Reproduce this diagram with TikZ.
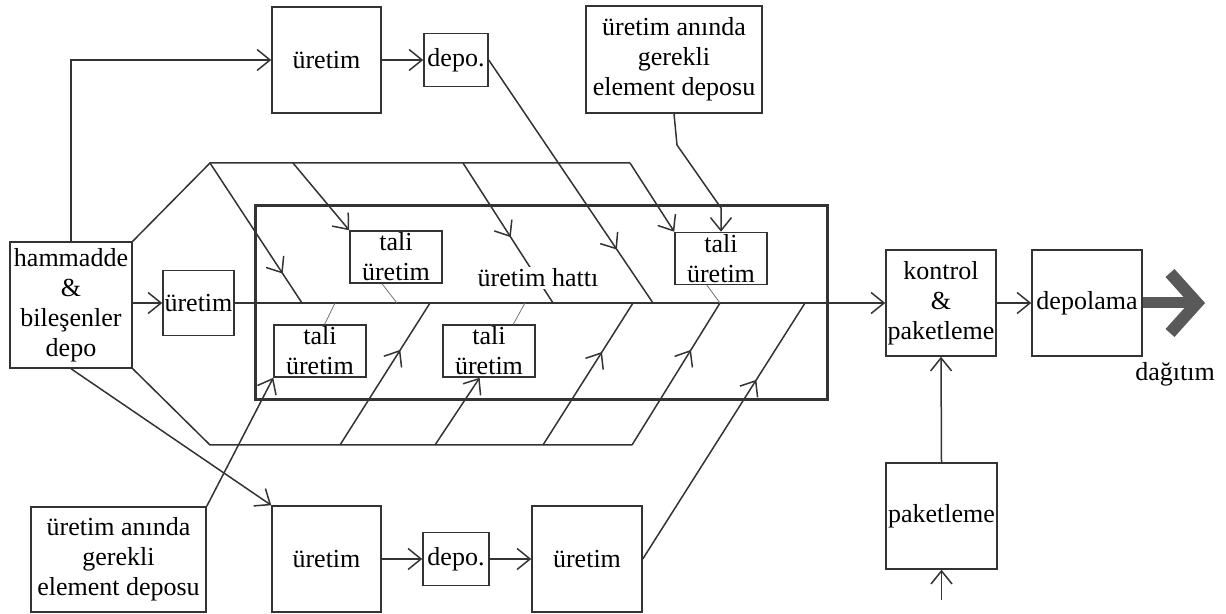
\documentclass[tikz,border=0pt]{standalone}
\usepackage{fontspec}
\setmainfont{Liberation Serif}
\usetikzlibrary{arrows.meta,decorations.markings,calc}
\begin{document}
\begin{tikzpicture}[x=0.5pt,y=-0.5pt,
  ln/.style={draw=black!80, line width=0.75pt},
  thinln/.style={draw=black!55, line width=0.4pt},
  tip/.style={-{Straight Barb[length=6.5pt,width=10.5pt]}},
  midarrow/.style={postaction={decorate},decoration={markings,mark=at position #1 with {\arrow{Straight Barb[length=6.5pt,width=10.5pt]}}}},
  txt/.style={font=\fontsize{13}{15}\selectfont, align=center},
  box/.style n args={2}{draw=black!80, line width=0.75pt, fill=white, inner sep=0pt, txt, minimum width=#1, minimum height=#2}
]
\useasboundingbox (0,0) rectangle (1226,614);

% inner frame
\draw[draw=black!80, line width=1.5pt] (255,206) rectangle (827,400);

% boxes
\node[box={54.5pt}{53pt}] (top1) at (326.5,60) {üretim};
\node[box={32pt}{26.5pt}] (depo1) at (456,60) {depo.};
\node[box={88pt}{53.5pt}] (jit1) at (674,59.5) {üretim anında\\gerekli\\element deposu};
\node[box={61pt}{63pt}] (ham) at (71,305) {hammadde\\\&\\bileşenler\\depo};
\node[box={35.5pt}{32.5pt}] (ur0) at (198.5,303) {üretim};
\node[box={55pt}{53pt}] (kon) at (941,303) {kontrol\\\&\\paketleme};
\node[box={55pt}{53pt}] (dep) at (1087,303) {depolama};
\node[box={55.5pt}{53pt}] (pak) at (941.5,516) {paketleme};
\node[box={87.5pt}{52.5pt}] (jit2) at (118.5,559.5) {üretim anında\\gerekli\\element deposu};
\node[box={54.5pt}{53pt}] (bot1) at (326.5,559) {üretim};
\node[box={33pt}{26.5pt}] (depo2) at (456,559) {depo.};
\node[box={55pt}{53pt}] (bot3) at (587,559) {üretim};
\node[box={46pt}{26pt}] (taliA) at (396,257) {tali\\üretim};
\node[box={46pt}{26pt}] (taliB) at (721,258.5) {tali\\üretim};
\node[box={46pt}{26pt}] (taliC) at (320,351) {tali\\üretim};
\node[box={46pt}{26pt}] (taliD) at (489,351) {tali\\üretim};
\node[txt] (dag) at (1175,374) {dağıtım};

% coordinates
\coordinate (hA) at (210,163);
\coordinate (hB) at (630,163);
\coordinate (hC) at (210,445);
\coordinate (hD) at (632,445);
\coordinate (t1) at (293,163);
\coordinate (t2) at (463,163);
\coordinate (b1) at (340,445);
\coordinate (b2) at (435,445);
\coordinate (b3) at (543,445);
\coordinate (s1) at (302,303);
\coordinate (s2) at (553,303);
\coordinate (s3) at (653,303);
\coordinate (s4) at (720,303);
\coordinate (s5) at (430,303);
\coordinate (s6) at (633,303);
\coordinate (s7) at (805,303);
\coordinate (s8) at (397,303);
\coordinate (s9) at (335,303);
\coordinate (s10) at (525,303);
\coordinate (j1) at (677,145);
\coordinate (j2) at (721,208);
\coordinate (pin) at (941.5,600);

% main flow
\draw[ln,tip] (ham.east |- ur0.west) -- (ur0.west);
\draw[ln,tip] (ur0.east) -- (kon.west);
\draw[ln,tip] (kon.east) -- (dep.west);
\draw[ln,tip] (pak.north) -- (kon.south);
\draw[ln,tip] (pin) -- (pak.south);
\draw[ln,tip] (ham.north) |- (top1.west);
\draw[ln,tip] (top1.east) -- (depo1.west);
\draw[ln,tip] (ham.south) -- (bot1.north west);
\draw[ln,tip] (bot1.east) -- (depo2.west);
\draw[ln,tip] (depo2.east) -- (bot3.west);

% outer shape and feeders
\draw[ln] (ham.north east) -- (hA) -- (hB);
\draw[ln,tip] (hB) -- (taliB.north west);
\draw[ln,midarrow=0.79] (hA) -- (s1);
\draw[ln,tip] (t1) -- (taliA.north west);
\draw[ln,midarrow=0.53] (t2) -- (s2);
\draw[ln,midarrow=0.78] (depo1.east) -- (s3);
\draw[ln,tip] (jit1.south) -- (j1) -- (j2) -- (taliB.north);
\draw[ln] (ham.south east) -- (hC) -- (hD);
\draw[ln,midarrow=0.67] (hD) -- (s4);
\draw[ln,midarrow=0.67] (b1) -- (s5);
\draw[ln,tip] (b2) -- ($(taliD.south west)!0.4!(taliD.south east)$);
\draw[ln,midarrow=0.655] (b3) -- (s6);
\draw[ln,midarrow=0.70] (bot3.east) -- (s7);
\draw[ln,tip] (jit2.north east) -- (taliC.south west);

% tali to spine
\draw[thinln] ($(taliA.south west)!0.35!(taliA.south east)$) -- (s8);
\draw[thinln] ($(taliB.south west)!0.35!(taliB.south east)$) -- (s4);
\draw[thinln] ($(taliC.north west)!0.55!(taliC.north east)$) -- (s9);
\draw[thinln] ($(taliD.north west)!0.76!(taliD.north east)$) -- (s10);

% label over spine feeder
\node[txt, fill=white, inner sep=1pt] (hat) at (538,278) {üretim hattı};

% distribution arrow
\draw[line width=5.5pt, draw=black!65] (dep.east) -- (1192,303);
\draw[line width=6pt, draw=black!65, miter limit=10] (1170,273) -- (1197,303) -- (1170,333);
\end{tikzpicture}
\end{document}
